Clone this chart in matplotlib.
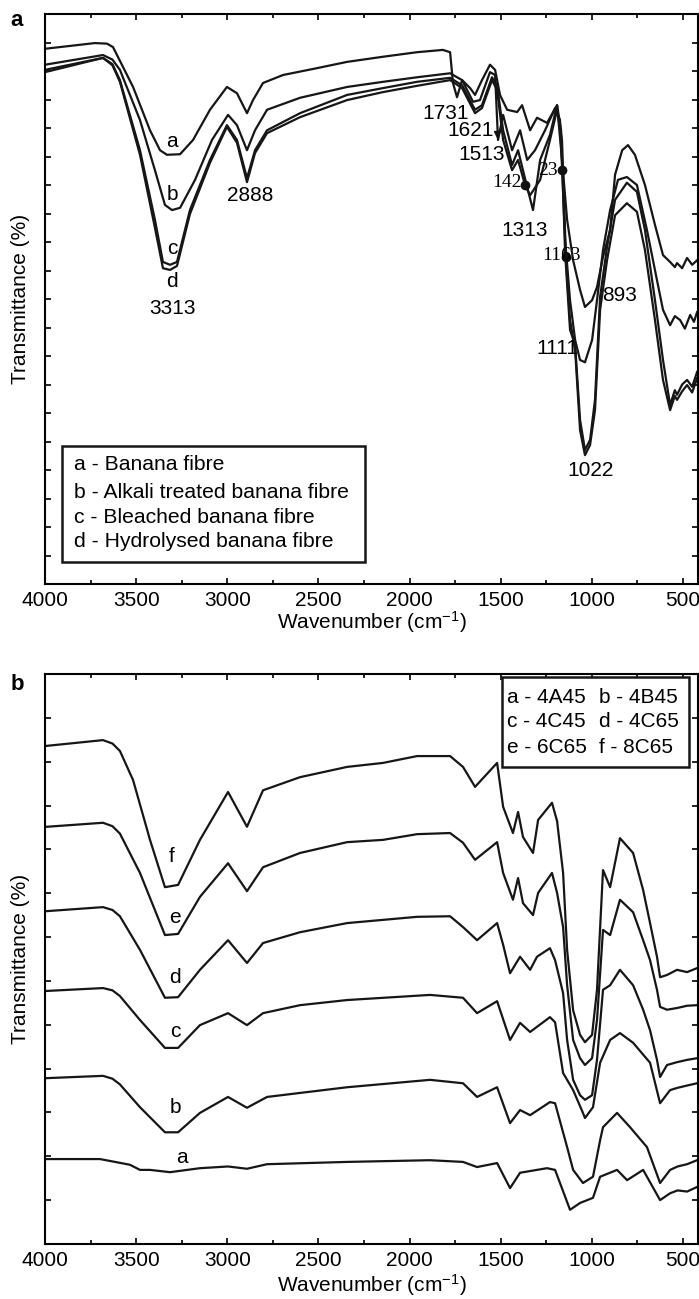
import numpy as np
from matplotlib import pyplot
from matplotlib.patches import Rectangle

pyplot.rcParams['font.family'] = ['Liberation Sans', 'DejaVu Sans']
pyplot.rcParams['mathtext.fontset'] = 'custom'
pyplot.rcParams['mathtext.rm'] = 'Liberation Sans'
pyplot.rcParams['mathtext.it'] = 'Liberation Sans:italic'

# ---- panel a : banana fibre treatments (wavenumber, transmittance in % of axis)
fibre_a_wn = [4000, 3726, 3660, 3627, 3517, 3424, 3369, 3331, 3259, 3188, 3095, 3002, 2947, 2892,
              2859, 2804, 2694, 2508, 2343, 2146, 1959, 1817, 1778, 1762, 1740, 1712, 1668,
              1641, 1603, 1559, 1531, 1504, 1465, 1410, 1383, 1339, 1301, 1246, 1191, 1164,
              1136, 1103, 1065, 1038, 999, 972, 939, 900, 873, 834, 802, 764, 709, 654, 610,
              571, 545, 533, 505, 478, 450, 423]
fibre_a_tr = [93.9, 94.9, 94.8, 94.2, 87.2, 79.6, 76.1, 75.3, 75.4, 77.9, 83.2, 87.2, 86.1, 82.6,
              84.9, 87.9, 89.3, 90.5, 91.6, 92.5, 93.3, 93.7, 93.3, 87.9, 85.4, 88.4, 87.0,
              85.8, 88.4, 91.1, 90.2, 85.8, 83.2, 82.8, 84.0, 79.6, 81.8, 80.9, 84.0, 74.4,
              63.9, 56.8, 51.6, 48.6, 49.8, 52.1, 57.4, 62.1, 71.8, 76.1, 77.0, 75.3, 70.0,
              63.0, 57.7, 56.5, 55.6, 56.3, 55.4, 57.2, 56.0, 56.8]

fibre_b_wn = [4000, 3682, 3630, 3589, 3479, 3397, 3342, 3303, 3259, 3177, 3084, 2996, 2947, 2892,
              2848, 2782, 2601, 2343, 2146, 1959, 1778, 1712, 1652, 1614, 1559, 1531, 1515,
              1487, 1438, 1394, 1355, 1312, 1257, 1202, 1175, 1147, 1120, 1092, 1065, 1038,
              999, 972, 939, 900, 857, 808, 753, 698, 643, 610, 571, 545, 516, 490, 461, 440, 423]
fibre_b_tr = [91.1, 92.8, 92.0, 90.2, 81.4, 72.6, 66.5, 65.6, 66.0, 70.9, 77.9, 82.3, 80.5, 76.1,
              79.6, 83.2, 85.3, 87.2, 88.1, 88.9, 89.6, 88.4, 84.6, 84.9, 89.8, 89.3, 77.9,
              82.3, 76.1, 79.6, 74.4, 76.1, 79.6, 83.5, 81.4, 60.4, 49.8, 42.8, 39.3, 38.9,
              42.8, 49.8, 58.6, 65.6, 70.9, 71.4, 70.0, 62.1, 53.3, 48.1, 45.4, 47.0, 46.3,
              44.8, 47.2, 46.0, 47.7]

fibre_c_wn = [4000, 3682, 3630, 3589, 3479, 3397, 3353, 3314, 3276, 3205, 3095, 3002, 2947, 2892,
              2848, 2782, 2601, 2343, 2146, 1959, 1778, 1712, 1641, 1603, 1548, 1520, 1487,
              1438, 1405, 1355, 1323, 1284, 1230, 1191, 1169, 1147, 1120, 1092, 1065, 1038,
              1010, 983, 955, 917, 873, 808, 753, 709, 654, 610, 571, 545, 533, 505, 478, 450, 423]
fibre_c_tr = [90.2, 92.3, 91.2, 88.4, 76.1, 63.9, 56.5, 56.0, 56.5, 65.6, 74.4, 80.5, 77.9, 71.2,
              76.1, 79.6, 82.6, 85.8, 87.0, 88.1, 88.8, 87.5, 83.2, 84.0, 88.9, 87.5, 79.6,
              73.5, 76.1, 69.6, 65.6, 74.4, 78.8, 84.0, 79.6, 58.1, 44.6, 41.9, 28.8, 23.5,
              25.3, 32.3, 50.4, 59.1, 67.4, 70.4, 68.8, 62.1, 49.8, 39.3, 31.4, 34.0, 33.2,
              35.0, 35.8, 34.6, 37.2]

fibre_d_wn = [4000, 3682, 3630, 3589, 3479, 3397, 3353, 3314, 3276, 3205, 3095, 3002, 2947, 2892,
              2848, 2782, 2601, 2343, 2146, 1959, 1778, 1712, 1641, 1603, 1548, 1520, 1487,
              1438, 1405, 1367, 1339, 1284, 1230, 1191, 1164, 1142, 1120, 1092, 1065, 1038,
              1010, 983, 955, 917, 873, 808, 753, 709, 654, 610, 571, 545, 533, 505, 478, 450, 423]
fibre_d_tr = [89.8, 92.3, 91.0, 88.1, 75.3, 62.5, 55.4, 55.1, 55.8, 64.9, 73.9, 80.2, 77.4, 70.5,
              75.6, 79.1, 81.9, 84.9, 86.3, 87.4, 88.4, 87.0, 82.6, 83.5, 88.4, 86.7, 77.9,
              72.6, 74.4, 70.0, 68.2, 70.9, 77.9, 83.2, 77.9, 56.8, 46.3, 41.1, 27.0, 22.6,
              24.4, 30.5, 48.1, 56.8, 64.7, 66.8, 65.3, 58.6, 46.3, 35.8, 30.5, 33.0, 32.3,
              33.8, 34.9, 33.6, 36.1]

fibre_names = ['a - Banana fibre', 'b - Alkali treated banana fibre',
               'c - Bleached banana fibre', 'd - Hydrolysed banana fibre']

# ---- panel b : hydrolysis conditions
sample_a_wn = [3989, 3698, 3534, 3479, 3424, 3314, 3150, 2996, 2892, 2782, 2343, 1888, 1707,
               1630, 1520, 1449, 1394, 1246, 1202, 1120, 1065, 994, 955, 862, 807, 719, 626,
               571, 530, 478, 423]
sample_a_tr = [14.9, 14.9, 13.9, 13.0, 13.0, 12.6, 13.3, 13.6, 13.2, 14.0, 14.4, 14.7, 14.4,
               13.5, 14.2, 9.8, 12.5, 13.3, 13.0, 6.0, 7.2, 8.1, 11.8, 13.0, 11.2, 13.0, 7.7,
               8.9, 9.4, 9.2, 10.0]

sample_b_wn = [3989, 3682, 3630, 3589, 3479, 3342, 3270, 3150, 2996, 2892, 2782, 2343, 1888, 1707,
               1630, 1520, 1449, 1394, 1339, 1230, 1202, 1136, 1103, 1049, 994, 955, 939, 862,
               791, 698, 626, 571, 530, 478, 423]
sample_b_tr = [29.1, 29.5, 29.0, 28.0, 24.0, 19.6, 19.6, 23.0, 25.8, 23.9, 25.8, 27.5, 28.8, 28.2,
               25.8, 27.5, 21.2, 23.5, 22.6, 24.9, 24.7, 17.0, 13.0, 10.7, 11.8, 18.2, 20.5,
               23.0, 20.5, 17.0, 10.7, 13.0, 13.6, 14.0, 14.7]

sample_c_wn = [3989, 3682, 3630, 3589, 3479, 3342, 3270, 3150, 2996, 2892, 2804, 2601, 2343, 1888,
               1707, 1630, 1520, 1449, 1394, 1339, 1230, 1202, 1158, 1103, 1049, 1038, 994,
               955, 900, 846, 774, 681, 626, 571, 530, 478, 423]
sample_c_tr = [44.4, 44.9, 44.5, 43.5, 39.3, 34.4, 34.4, 38.4, 40.5, 38.4, 40.5, 41.9, 42.8, 43.7,
               43.2, 40.5, 42.6, 35.8, 38.8, 37.2, 39.8, 38.9, 30.0, 27.0, 23.0, 22.1, 24.0,
               31.8, 35.8, 37.0, 35.3, 31.8, 24.7, 27.0, 27.4, 27.8, 28.2]

sample_d_wn = [3989, 3682, 3630, 3589, 3479, 3342, 3270, 3150, 2996, 2892, 2804, 2601, 2343, 1959,
               1778, 1707, 1630, 1520, 1487, 1449, 1394, 1339, 1301, 1230, 1202, 1158, 1136,
               1103, 1065, 1038, 999, 972, 939, 900, 846, 774, 719, 681, 643, 626, 588, 533,
               478, 423]
sample_d_tr = [58.4, 59.1, 58.6, 57.5, 51.6, 43.2, 43.3, 48.1, 53.3, 49.3, 52.8, 54.7, 56.3, 57.4,
               57.5, 55.6, 53.3, 56.3, 52.5, 47.5, 50.4, 48.1, 50.4, 51.9, 49.8, 44.0, 35.8,
               28.8, 26.1, 25.3, 26.1, 32.3, 44.6, 45.4, 48.1, 45.4, 41.1, 37.5, 32.3, 29.3,
               31.4, 31.9, 32.3, 32.6]

sample_e_wn = [3989, 3682, 3630, 3589, 3479, 3342, 3270, 3150, 2996, 2892, 2804, 2601, 2343, 2146,
               1959, 1778, 1707, 1641, 1520, 1487, 1433, 1405, 1378, 1323, 1295, 1219, 1191,
               1158, 1136, 1103, 1065, 1038, 999, 972, 939, 900, 846, 774, 719, 681, 643, 626,
               588, 533, 478, 423]
sample_e_tr = [73.2, 73.9, 73.3, 72.0, 65.1, 54.2, 54.4, 60.9, 66.8, 61.9, 66.1, 68.6, 70.5, 70.9,
               71.9, 72.1, 70.4, 67.4, 70.5, 65.1, 60.4, 64.2, 59.8, 57.7, 61.6, 65.1, 61.6,
               55.6, 45.4, 35.8, 32.6, 31.4, 32.6, 39.3, 55.1, 54.2, 60.4, 58.2, 53.3, 49.8,
               44.6, 41.6, 41.1, 41.4, 41.8, 41.9]

sample_f_wn = [3989, 3682, 3630, 3589, 3517, 3424, 3342, 3270, 3150, 2996, 2892, 2804, 2601, 2343,
               2146, 1959, 1778, 1707, 1641, 1520, 1487, 1433, 1405, 1378, 1323, 1295, 1219,
               1191, 1158, 1136, 1103, 1065, 1038, 999, 972, 939, 900, 846, 774, 719, 681, 643,
               626, 588, 533, 478, 423]
sample_f_tr = [87.4, 88.4, 87.8, 86.5, 81.4, 70.9, 62.6, 63.0, 70.9, 79.3, 73.2, 79.6, 81.9, 83.7,
               84.4, 85.6, 85.6, 83.7, 80.2, 84.4, 76.7, 72.1, 75.8, 71.4, 68.6, 74.4, 77.4,
               74.2, 65.1, 51.6, 41.0, 36.7, 35.4, 36.7, 44.6, 65.6, 62.6, 71.2, 68.6, 62.1,
               56.3, 50.4, 46.8, 47.2, 48.1, 47.7, 48.4]

sample_names = [['a - 4A45', 'b - 4B45'], ['c - 4C45', 'd - 4C65'], ['e - 6C65', 'f - 8C65']]

line_width = 1.6
font_size = 15


def style_axes(ax, n_yticks):
    """Inward ticks on all sides, no y labels"""
    ax.set_xlim(4000, 418)
    ax.set_ylim(0, 100)
    ax.set_xticks(range(4000, 499, -500))
    ax.set_xticks(range(3750, 499, -500), minor=True)
    ax.set_yticks(np.linspace(0, 100, n_yticks))
    ax.set_yticklabels([])
    ax.tick_params(which='both', direction='in', top=True, right=True,
                   labelsize=font_size, width=1.2, pad=5)
    ax.tick_params(which='major', length=4)
    ax.tick_params(which='minor', length=3)
    for spine in ax.spines.values():
        spine.set_linewidth(1.5)
    ax.set_xlabel('Wavenumber (cm$^{-1}$)', fontsize=font_size, va='center')
    ax.set_ylabel('Transmittance (%)', fontsize=font_size, va='center')
    ax.yaxis.set_label_coords(-25 / 653, 0.5)


def plot_panel_a(ax):
    curves = [(fibre_a_wn, fibre_a_tr), (fibre_b_wn, fibre_b_tr),
              (fibre_c_wn, fibre_c_tr), (fibre_d_wn, fibre_d_tr)]
    for wn, tr in curves:
        ax.plot(wn, tr, color='#161616', lw=line_width)
    style_axes(ax, 21)
    ax.xaxis.set_label_coords(0.5, -38 / 570)

    # curve letters and band positions
    for s, x, y in [('a', 3303, 77.7), ('b', 3303, 68.4), ('c', 3303, 58.9), ('d', 3303, 53.0),
                    ('3313', 3303, 48.4), ('2888', 2875, 68.2), ('1731', 1800, 82.6),
                    ('1621', 1663, 79.6), ('1513', 1603, 75.3), ('1313', 1367, 62.1),
                    ('893', 851, 50.7), ('1111', 1191, 41.4), ('1022', 1010, 20.0)]:
        ax.text(x, y, s, fontsize=font_size, ha='center', va='center')
    for s, x, y in [('142', 1465, 70.4), ('23', 1241, 72.5), ('1163', 1166, 57.7)]:
        ax.text(x, y, s, fontsize=14, ha='center', va='center', family='Liberation Serif')
    ax.plot([1367, 1164, 1142], [70.0, 72.6, 57.4], 'o', color='#111111', ms=6)
    ax.plot([1520], [79.0], 'v', color='#111111', ms=5)

    # legend box
    ax.add_patch(Rectangle((0.026, 0.0386), 0.464, 0.2034, transform=ax.transAxes,
                           fill=False, ec='#161616', lw=1.8))
    for name, y in zip(fibre_names, [0.2088, 0.1614, 0.1175, 0.0737]):
        ax.text(0.0444, y, name, transform=ax.transAxes, fontsize=15.2, va='center')


def plot_panel_b(ax):
    curves = [(sample_a_wn, sample_a_tr), (sample_b_wn, sample_b_tr),
              (sample_c_wn, sample_c_tr), (sample_d_wn, sample_d_tr),
              (sample_e_wn, sample_e_tr), (sample_f_wn, sample_f_tr)]
    for wn, tr in curves:
        ax.plot(wn, tr, color='#161616', lw=line_width)
    style_axes(ax, 14)
    ax.xaxis.set_label_coords(0.5, -41 / 570)

    for s, x, y in [('f', 3303, 67.9), ('e', 3287, 57.2), ('d', 3287, 46.8),
                    ('c', 3287, 37.2), ('b', 3287, 23.9), ('a', 3248, 15.1)]:
        ax.text(x, y, s, fontsize=font_size, ha='center', va='center')

    ax.add_patch(Rectangle((0.700, 0.8368), 0.286, 0.1579, transform=ax.transAxes,
                           fill=True, fc='white', ec='#161616', lw=1.8, zorder=3))
    for row, y in zip(sample_names, [0.9596, 0.9158, 0.8719]):
        for name, x in zip(row, [0.7075, 0.848]):
            ax.text(x, y, name, transform=ax.transAxes, fontsize=15, va='center', zorder=4)


fig = pyplot.figure(figsize=(6.99, 12.99), dpi=100)
ax_a = fig.add_axes([45 / 699, 1 - 584 / 1299, 653 / 699, 570 / 1299])
ax_b = fig.add_axes([45 / 699, 1 - 1244 / 1299, 653 / 699, 570 / 1299])
plot_panel_a(ax_a)
plot_panel_b(ax_b)
fig.text(17 / 699, 1 - 21 / 1299, 'a', fontsize=16, fontweight='bold', ha='center', va='center')
fig.text(17 / 699, 1 - 684 / 1299, 'b', fontsize=16, fontweight='bold', ha='center', va='center')

fig.savefig('out.png', dpi=100)
